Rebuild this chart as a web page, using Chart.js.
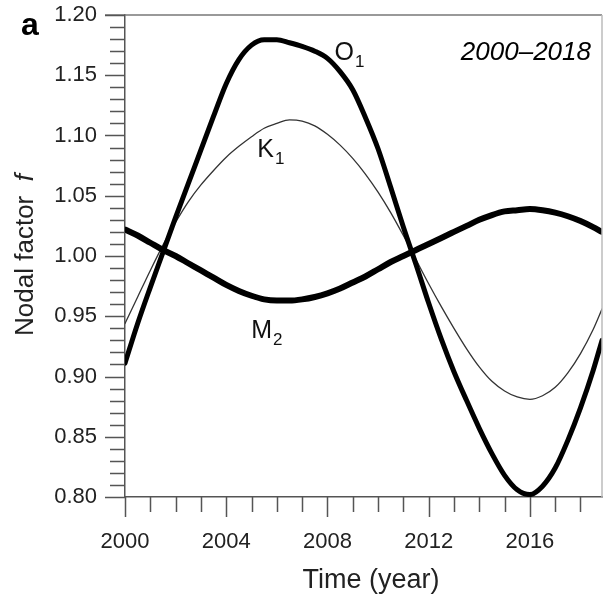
<!DOCTYPE html>
<html>
<head>
<meta charset="utf-8">
<script src="https://cdn.jsdelivr.net/npm/chart.js@4.4.0/dist/chart.umd.min.js"></script>
<style>
  html, body { margin: 0; padding: 0; background: #fff; }
</style>
</head>
<body>
<canvas id="nodalChart" width="605" height="596"></canvas>
<script>
const years = [
  2000, 2000.5, 2001, 2001.5, 2002, 2002.5, 2003, 2003.5, 2004, 2004.5,
  2005, 2005.5, 2006, 2006.5, 2007, 2007.5, 2008, 2008.5, 2009, 2009.5,
  2010, 2010.5, 2011, 2011.5, 2012, 2012.5, 2013, 2013.5, 2014, 2014.5,
  2015, 2015.5, 2016, 2016.5, 2017, 2017.5, 2018, 2018.5, 2018.85,
];
const o1 = [
  0.911, 0.944, 0.974, 1.003, 1.032, 1.060, 1.088, 1.116, 1.143, 1.163,
  1.175, 1.1795, 1.1795, 1.177, 1.174, 1.170, 1.164, 1.153, 1.138, 1.115,
  1.089, 1.057, 1.024, 0.993, 0.961, 0.931, 0.904, 0.880, 0.857, 0.836,
  0.818, 0.806, 0.802, 0.809, 0.824, 0.847, 0.874, 0.905, 0.930,
];
const k1 = [
  0.944, 0.966, 0.988, 1.009, 1.028, 1.045, 1.059, 1.071, 1.082, 1.091,
  1.099, 1.106, 1.110, 1.113, 1.112, 1.108, 1.101, 1.092, 1.081, 1.068,
  1.053, 1.036, 1.017, 0.997, 0.977, 0.958, 0.940, 0.923, 0.908, 0.896,
  0.888, 0.883, 0.881, 0.884, 0.891, 0.903, 0.919, 0.939, 0.956,
];
const m2 = [
  1.022, 1.017, 1.011, 1.005, 1.000, 0.994, 0.988, 0.982, 0.976, 0.971,
  0.967, 0.964, 0.963, 0.963, 0.964, 0.966, 0.969, 0.973, 0.978, 0.983,
  0.989, 0.995, 1.000, 1.005, 1.010, 1.015, 1.020, 1.025, 1.030, 1.034,
  1.037, 1.038, 1.039, 1.038, 1.036, 1.033, 1.029, 1.024, 1.020,
];
const xTicks = [2000, 2004, 2008, 2012, 2016];
const yTicks = [0.80, 0.85, 0.90, 0.95, 1.00, 1.05, 1.10, 1.15, 1.20];

const FONT = "'Liberation Sans', Arial, sans-serif";

// curve labels (data coords) with subscripts
const curveLabels = [
  { text: "O", sub: "1", x: 2008.28, y: 1.1627 },
  { text: "K", sub: "1", x: 2005.23, y: 1.0822 },
  { text: "M", sub: "2", x: 2004.99, y: 0.932 },
];

const pts = (arr) => years.map((x, i) => ({ x: x, y: arr[i] }));

// minor/major tick marks, frame and text
const decor = {
  id: "decor",
  afterDraw(chart) {
    const ctx = chart.ctx;
    const xs = chart.scales.x;
    const ys = chart.scales.y;
    const a = chart.chartArea;
    ctx.save();

    // top and right frame
    ctx.strokeStyle = "#777";
    ctx.lineWidth = 1.5;
    ctx.beginPath();
    ctx.moveTo(a.left - 20, a.top);
    ctx.lineTo(a.right, a.top);
    ctx.stroke();
    ctx.strokeStyle = "#bbb";
    ctx.beginPath();
    ctx.moveTo(a.right, a.top);
    ctx.lineTo(a.right, a.bottom);
    ctx.stroke();

    // ticks
    ctx.strokeStyle = "#555";
    ctx.lineWidth = 1.5;
    ctx.beginPath();
    for (let i = 80; i <= 120; i++) {
      const y = Math.round(ys.getPixelForValue(i / 100)) + 0.5;
      const len = i % 5 === 0 ? 20 : 15;
      ctx.moveTo(a.left, y);
      ctx.lineTo(a.left - len, y);
    }
    for (let yr = 2000; yr <= 2018; yr++) {
      const x = Math.round(xs.getPixelForValue(yr)) + 0.5;
      const len = yr % 4 === 0 ? 20 : 15;
      ctx.moveTo(x, a.bottom);
      ctx.lineTo(x, a.bottom + len);
    }
    ctx.stroke();

    // curve labels
    ctx.fillStyle = "#111";
    ctx.textBaseline = "alphabetic";
    ctx.textAlign = "left";
    curveLabels.forEach((l) => {
      const x = xs.getPixelForValue(l.x);
      const y = ys.getPixelForValue(l.y);
      ctx.font = "25px " + FONT;
      ctx.fillText(l.text, x, y);
      const w = ctx.measureText(l.text).width;
      ctx.font = "17px " + FONT;
      ctx.fillText(l.sub, x + w + 1, y + 7);
    });

    // panel letter and period
    ctx.fillStyle = "#000";
    ctx.font = "bold 32px " + FONT;
    ctx.fillText("a", 21, 35);
    ctx.font = "italic 26px " + FONT;
    ctx.textAlign = "right";
    ctx.fillText("2000\u20132018", 591, 60);

    // axis titles
    ctx.fillStyle = "#222";
    ctx.font = "27px " + FONT;
    ctx.textAlign = "center";
    ctx.fillText("Time (year)", 371, 588);

    ctx.save();
    ctx.translate(33, 255);
    ctx.rotate(-Math.PI / 2);
    ctx.textAlign = "left";
    ctx.font = "26px " + FONT;
    const t1 = "Nodal factor  ";
    const w1 = ctx.measureText(t1).width;
    ctx.font = "italic 26px " + FONT;
    const w2 = ctx.measureText("f").width;
    const start = -(w1 + w2) / 2;
    ctx.font = "26px " + FONT;
    ctx.fillText(t1, start, 0);
    ctx.font = "italic 26px " + FONT;
    ctx.fillText("f", start + w1, 0);
    ctx.restore();

    ctx.restore();
  },
};

const lineData = {
  datasets: [
    {
      label: "M2",
      data: pts(m2),
      borderColor: "#000",
      borderWidth: 6,
    },
    {
      label: "O1",
      data: pts(o1),
      borderColor: "#000",
      borderWidth: 5,
    },
    {
      label: "K1",
      data: pts(k1),
      borderColor: "#333",
      borderWidth: 1.3,
    },
  ],
};

const lineConfig = {
  type: "line",
  data: lineData,
  options: {
    responsive: false,
    animation: false,
    devicePixelRatio: 1,
    events: [],
    layout: {
      padding: { left: 0, top: 15, right: 3, bottom: 0 },
    },
    elements: {
      point: { radius: 0 },
      line: { cubicInterpolationMode: "monotone", fill: false, borderCapStyle: "round" },
    },
    plugins: {
      legend: { display: false },
      tooltip: { enabled: false },
    },
    scales: {
      x: {
        type: "linear",
        min: 2000,
        max: 2018.85,
        afterFit: (s) => {
          s.height = 99;
          s.paddingLeft = 0;
          s.paddingRight = 0;
        },
        afterBuildTicks: (s) => { s.ticks = xTicks.map((v) => ({ value: v })); },
        grid: { display: false, drawTicks: false },
        border: { display: true, color: "#555", width: 1.5 },
        ticks: {
          autoSkip: false,
          maxRotation: 0,
          padding: 32,
          color: "#222",
          font: { family: FONT, size: 22 },
          callback: (v) => String(v),
        },
      },
      y: {
        type: "linear",
        min: 0.8,
        max: 1.2,
        afterFit: (s) => {
          s.width = 125;
          s.paddingTop = 0;
          s.paddingBottom = 0;
        },
        afterBuildTicks: (s) => { s.ticks = yTicks.map((v) => ({ value: v })); },
        grid: { display: false, drawTicks: false },
        border: { display: true, color: "#555", width: 1.5 },
        ticks: {
          autoSkip: false,
          padding: 28,
          color: "#222",
          font: { family: FONT, size: 22 },
          callback: (v) => v.toFixed(2),
        },
      },
    },
  },
  plugins: [decor],
};

new Chart(document.getElementById("nodalChart"), lineConfig);
</script>
</body>
</html>
